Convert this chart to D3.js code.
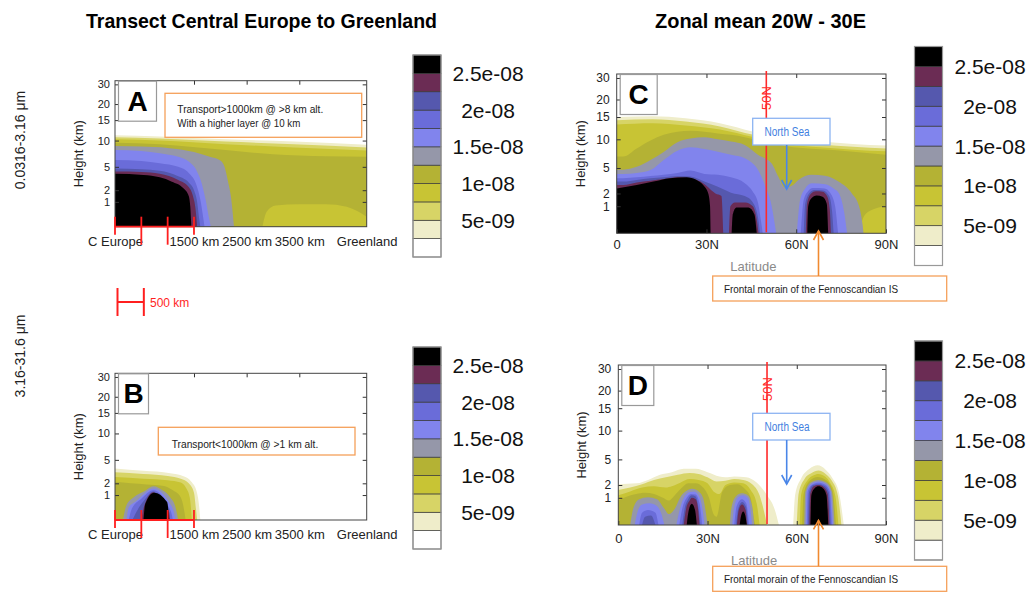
<!DOCTYPE html>
<html>
<head>
<meta charset="utf-8">
<script src="https://cdn.jsdelivr.net/npm/d3@7"></script>
<style>
body { margin: 0; background: #fff; }
svg text { font-family: 'Liberation Sans', Arial, sans-serif; }
</style>
</head>
<body>
<div id="chart"></div>
<script>
// concentration classes, units of 1e-9
const classBreaks = [2.5, 5, 7.5, 10, 12.5, 15, 17.5, 20, 22.5, 25]
const classColors = ['#ffffff', '#efedca', '#d7d466', '#c8c434', '#b4b234', '#9597a9', '#8184ed', '#6a6cd9', '#5558ae', '#6b2c54', '#000000']
const legendTicks = [5, 10, 15, 20, 25]

const heightTicks = [1, 2, 5, 10, 15, 20, 30]
const transectTicks = [0, 1500, 2500, 3500, 4780]
const transectLabels = ['C Europe', '1500 km', '2500 km', '3500 km', 'Greenland']
const rulerKm = [0, 500, 1000, 1500]
const latTicks = [0, 30, 60, 90]
const latLabels = ['0', '30N', '60N', '90N']

// each entry: [class index, top boundary [distance km | latitude, height km]]
const panelA = [
  [1, [[0, 11.3], [850, 11.0], [2100, 10.3], [3400, 9.8], [4780, 9.2]]],
  [2, [[0, 10.8], [850, 10.5], [2100, 9.8], [3400, 9.3], [4780, 8.7]]],
  [3, [[0, 10.3], [850, 10.0], [2100, 9.3], [3400, 8.7], [4780, 8.1]]],
  [4, [[0, 9.6], [850, 9.3], [2100, 8.2], [3000, 7.4], [4000, 7.0], [4780, 6.9]]],
  [3, [[2800, 0], [2880, 0.6], [3050, 0.85], [3500, 0.9], [4000, 0.9], [4400, 0.8], [4780, 0.4]]],
  [5, [[0, 8.95], [500, 8.85], [1000, 8.6], [1500, 7.8], [1800, 6.9], [2000, 6.2], [2080, 5.0], [2150, 3.0], [2200, 1.5], [2260, 0]]],
  [6, [[0, 8.2], [500, 8.0], [850, 7.6], [1200, 6.9], [1400, 6.0], [1550, 4.5], [1650, 2.8], [1720, 1.2], [1780, 0.4], [1820, 0]]],
  [7, [[0, 6.3], [500, 6.1], [850, 5.7], [1200, 5.0], [1400, 4.2], [1550, 2.6], [1620, 1.2], [1680, 0.3], [1700, 0]]],
  [8, [[0, 4.8], [500, 4.7], [850, 4.5], [1200, 3.8], [1400, 3.0], [1500, 2.0], [1560, 1.0], [1600, 0.3], [1620, 0]]],
  [9, [[0, 4.4], [500, 4.35], [850, 4.1], [1200, 3.3], [1400, 2.4], [1480, 1.5], [1530, 0.7], [1560, 0]]],
  [10, [[0, 4.1], [540, 3.95], [850, 3.65], [1080, 3.1], [1300, 2.25], [1400, 1.5], [1430, 0.8], [1450, 0]]]
]

const panelB = [
  [1, [[0, 3.9], [540, 3.6], [1050, 3.3], [1300, 2.9], [1450, 2.2], [1550, 1.3], [1600, 0.5], [1620, 0]]],
  [2, [[0, 3.4], [540, 3.2], [1000, 2.95], [1250, 2.6], [1400, 2.0], [1500, 1.2], [1540, 0.4], [1560, 0]]],
  [3, [[0, 2.8], [540, 2.6], [1000, 2.4], [1250, 2.1], [1350, 1.6], [1420, 0.9], [1460, 0]]],
  [4, [[0, 2.2], [300, 2.0], [600, 1.9], [900, 1.8], [1100, 1.4], [1250, 0.9], [1320, 0.3], [1340, 0]]],
  [5, [[150, 0], [220, 0.6], [350, 0.9], [550, 1.3], [730, 1.75], [900, 1.4], [1050, 0.9], [1150, 0.5], [1200, 0]]],
  [6, [[220, 0], [260, 0.5], [400, 0.75], [550, 1.1], [730, 1.55], [900, 1.15], [1030, 0.7], [1120, 0.3], [1150, 0]]],
  [7, [[260, 0], [320, 0.45], [500, 0.85], [730, 1.4], [880, 1.0], [1000, 0.6], [1080, 0.2], [1100, 0]]],
  [8, [[330, 0], [400, 0.3], [560, 0.8], [730, 1.3], [870, 0.9], [990, 0.5], [1050, 0]]],
  [9, [[500, 0], [560, 0.6], [730, 1.25], [860, 0.8], [1030, 0.3], [1040, 0]]],
  [10, [[540, 0], [575, 0.65], [741, 1.2], [990, 0.72], [1030, 0]]]
]

const panelC = [
  [1, [[0, 15.0], [12, 15.2], [23, 14.7], [34.5, 13.6], [45.7, 11.7], [56.8, 10.2], [68, 9.6], [79, 9.2], [90, 8.9]]],
  [2, [[0, 14.3], [12, 14.5], [23, 14.0], [34.5, 12.9], [45.7, 11.0], [56.8, 9.7], [68, 9.1], [79, 8.7], [90, 8.4]]],
  [3, [[0, 13.3], [12, 13.6], [23, 13.1], [34.5, 12.2], [45.7, 10.5], [56.8, 9.2], [68, 8.6], [79, 8.2], [90, 7.9]]],
  [4, [[0, 7.0], [2.2, 7.0], [6.7, 8.4], [11.3, 9.8], [15.7, 11.0], [20.3, 11.7], [24.7, 11.9], [29.3, 11.7], [33.8, 11.3], [38.2, 11.0], [42.8, 10.45], [47.2, 9.8], [51.8, 9.3], [56.2, 8.85], [62, 8.5], [68, 8.25], [79, 7.85], [90, 7.3]]],
  [3, [[81, 0], [82.5, 0.6], [85, 0.85], [90, 1.0]]],
  [5, [[0, 4.8], [2.2, 4.8], [6.7, 5.2], [11.3, 6.4], [15.7, 7.8], [20.3, 9.5], [24.7, 10.2], [29.3, 10.45], [33.8, 10.0], [38.2, 9.6], [42.8, 9.0], [47.2, 7.3], [51.8, 5.8], [54, 4.0], [56.2, 2.7], [58.5, 2.9], [60.7, 3.6], [65.2, 4.2], [69.6, 4.1], [74.1, 3.4], [78.6, 2.0], [81, 1.0], [82.2, 0.3], [82.5, 0]]],
  [6, [[0, 4.3], [2.2, 4.3], [6.7, 4.4], [11.3, 4.75], [15.7, 6.4], [20.3, 8.0], [24.7, 8.6], [29.3, 8.3], [33.8, 7.85], [38.2, 7.3], [42.8, 6.7], [46, 5.5], [47.2, 4.8], [49.5, 3.0], [51.8, 1.0], [53.3, 0]]],
  [6, [[60.2, 0], [61.3, 1.5], [63, 2.6], [65.3, 3.2], [69.7, 3.1], [72.5, 2.6], [74.3, 2.0], [76, 0.8], [77, 0]]],
  [7, [[0, 3.8], [2.2, 3.8], [6.7, 3.9], [11.3, 4.05], [15.7, 4.2], [20.3, 4.4], [24.7, 4.7], [29.3, 4.3], [33.8, 4.2], [38.2, 3.9], [42.8, 3.2], [45.5, 2.2], [47.2, 1.3], [48.3, 0.4], [48.8, 0]]],
  [7, [[61.5, 0], [62.5, 1.5], [64, 2.3], [65.5, 2.65], [69.5, 2.6], [71.5, 2.0], [73, 1.0], [74, 0]]],
  [8, [[0, 3.4], [2.2, 3.4], [6.7, 3.6], [11.3, 3.8], [15.7, 3.9], [20.3, 4.05], [24.7, 4.0], [29.3, 3.4], [33.8, 2.8], [38.2, 2.1], [42.8, 1.8], [45.5, 1.3], [47.2, 0.6], [47.9, 0]]],
  [8, [[62.5, 0], [63, 1.2], [64.5, 2.1], [66, 2.4], [69, 2.35], [71, 1.8], [72, 0.8], [72.5, 0]]],
  [9, [[0, 3.0], [2.2, 3.0], [6.7, 3.3], [11.3, 3.5], [15.7, 3.7], [20.3, 3.9], [24.7, 3.8], [28, 3.4], [30, 2.9], [31.5, 2.4], [33, 2.0], [35, 1.8], [35.6, 0]]],
  [9, [[37.5, 0], [38, 1.0], [39.5, 1.3], [43, 1.3], [45.5, 1.0], [46.8, 0.5], [47.4, 0]]],
  [9, [[63.2, 0], [63.6, 1.2], [65, 2.0], [66.5, 2.25], [68.8, 2.2], [70.3, 1.8], [71.2, 0.9], [71.6, 0]]],
  [10, [[0, 2.6], [6.7, 3.0], [12.3, 3.4], [17.8, 3.8], [23.4, 3.9], [26.7, 3.6], [28.9, 3.0], [30.6, 2.0], [31.2, 1.0], [31.4, 0]]],
  [10, [[38.4, 0], [38.8, 0.7], [40, 0.95], [44, 0.95], [46, 0.7], [46.8, 0]]],
  [10, [[63.7, 0], [64, 1.0], [65, 1.6], [66.8, 1.85], [68.8, 1.75], [70.2, 1.2], [70.7, 0]]]
]

const panelD = [
  [1, [[0, 2.1], [6.2, 2.2], [10, 2.6], [14, 3.2], [18, 3.5], [22, 3.9], [26, 3.9], [30, 3.5], [34, 3.0], [36, 2.9], [39, 3.0], [43, 2.9], [46.5, 2.3], [50, 1.2], [52.5, 0.6], [54, 0]]],
  [1, [[58.8, 0], [59.5, 1.3], [61.5, 2.8], [64.3, 3.9], [67, 4.3], [69.7, 3.8], [72, 2.8], [74.2, 1.4], [75.8, 0]]],
  [2, [[0, 1.6], [4, 1.8], [8, 2.1], [12, 2.6], [16, 2.9], [20, 3.2], [24, 3.4], [27, 3.3], [30, 2.9], [33, 2.4], [36, 2.5], [39, 2.7], [42, 2.6], [45, 2.1], [47.5, 1.2], [49, 0.5], [50, 0]]],
  [2, [[60, 0], [60.6, 1.3], [62.6, 2.7], [65, 3.4], [67.3, 3.7], [69.7, 3.3], [71.8, 2.5], [73.8, 1.2], [75, 0]]],
  [3, [[0, 1.2], [4, 1.5], [8, 1.8], [12, 1.9], [16, 1.8], [18, 1.9], [21, 2.3], [24, 2.7], [27, 2.6], [30, 2.2], [32, 1.5], [34, 1.3], [36, 2.0], [39, 2.3], [42, 2.2], [44.5, 1.6], [46.5, 0.8], [47.5, 0]]],
  [3, [[61, 0], [61.5, 1.3], [63.5, 2.5], [65.5, 3.1], [67.3, 3.3], [69.5, 3.0], [71.3, 2.2], [73, 1.1], [74, 0]]],
  [4, [[0, 0.9], [3, 1.1], [6, 1.3], [9, 1.4], [12, 1.3], [15, 1.0], [17, 0.9], [19, 1.2], [21, 1.7], [23.5, 2.2], [26, 2.2], [28.5, 1.8], [30.5, 1.0], [32, 0.4], [33, 0.3], [35, 1.5], [37.5, 2.0], [40, 2.1], [42.5, 1.7], [44.5, 1.0], [45.5, 0.3], [46, 0]]],
  [4, [[61.8, 0], [62.3, 1.3], [64.3, 2.5], [67, 2.95], [69.8, 2.6], [72, 1.6], [73.2, 0]]],
  [5, [[4, 0], [5, 0.6], [7, 0.95], [10, 1.05], [13, 0.95], [15.5, 0.6], [17, 0.4], [19, 0.6], [21, 1.1], [23, 1.55], [25, 1.7], [27, 1.5], [28.5, 1.0], [29.5, 0.4], [30, 0]]],
  [5, [[37.5, 0], [38, 0.6], [39.5, 1.1], [41.5, 1.35], [43.5, 1.2], [45, 0.7], [45.7, 0]]],
  [5, [[62.5, 0], [62.9, 1.5], [64.7, 2.3], [67.3, 2.6], [69.9, 2.3], [71.8, 1.5], [72.7, 0]]],
  [6, [[5.5, 0], [6.5, 0.5], [8, 0.75], [10.5, 0.8], [13, 0.7], [14.5, 0.4], [15.5, 0]]],
  [6, [[19.5, 0], [20.5, 0.5], [22, 1.0], [24, 1.45], [25.5, 1.5], [27, 1.2], [28.3, 0.6], [29, 0]]],
  [6, [[38.3, 0], [39, 0.7], [40.5, 1.1], [42, 1.2], [43.5, 1.0], [44.5, 0.5], [45, 0]]],
  [6, [[63, 0], [63.3, 1.5], [65, 2.15], [67.3, 2.4], [69.6, 2.15], [71.4, 1.5], [72.2, 0]]],
  [7, [[7, 0], [8, 0.45], [10, 0.55], [12.5, 0.45], [13.5, 0]]],
  [7, [[20.5, 0], [21.5, 0.6], [23, 1.0], [24.5, 1.3], [26, 1.25], [27.3, 0.8], [28.2, 0]]],
  [7, [[39, 0], [39.8, 0.7], [41.5, 0.95], [43, 0.8], [44, 0]]],
  [7, [[63.4, 0], [63.7, 1.5], [65.3, 2.05], [67.3, 2.25], [69.4, 2.05], [71.1, 1.5], [71.8, 0]]],
  [8, [[8, 0], [9, 0.3], [11, 0.35], [12.5, 0]]],
  [8, [[21.5, 0], [22.3, 0.6], [23.5, 0.95], [24.7, 1.2], [26, 1.1], [27, 0.6], [27.6, 0]]],
  [8, [[39.6, 0], [40.3, 0.6], [41.6, 0.85], [43, 0.65], [43.6, 0]]],
  [8, [[63.8, 0], [64.1, 1.4], [65.5, 2.0], [67.3, 2.1], [69.2, 1.95], [70.8, 1.4], [71.4, 0]]],
  [9, [[22, 0], [22.8, 0.6], [24, 0.9], [24.7, 1.0], [26, 0.95], [26.8, 0.6], [27.3, 0]]],
  [9, [[39.9, 0], [40.5, 0.55], [41.6, 0.75], [42.8, 0.55], [43.3, 0]]],
  [9, [[64.2, 0], [64.5, 1.3], [65.7, 1.9], [67.3, 2.0], [69, 1.85], [70.4, 1.3], [71, 0]]],
  [10, [[23, 0], [23.6, 0.5], [24.7, 0.78], [25.8, 0.55], [26.4, 0]]],
  [10, [[40.8, 0], [41.3, 0.35], [42, 0.5], [42.7, 0.35], [43.2, 0]]],
  [10, [[64.6, 0], [64.9, 1.2], [66, 1.75], [67.3, 1.9], [68.8, 1.75], [70, 1.2], [70.6, 0]]]
]

const W = 1034, H = 596
// height axis is not linear; these are the fractions of the frame height for each tick
const heightDomain = [0, 1, 2, 5, 10, 15, 20, 30, 31.8]
const heightFrac = [0, 0.17, 0.25, 0.41, 0.59, 0.73, 0.84, 0.975, 1]

const svg = d3.select('#chart').append('svg')
  .attr('width', W)
  .attr('height', H)

function drawPanel(p, i) {
  const x = d3.scaleLinear().domain(p.xDomain).range([p.l, p.r])
  const y = d3.scaleLinear().domain(heightDomain).range(heightFrac.map(f => p.b - f * (p.b - p.t)))
  const g = svg.append('g')

  g.append('clipPath').attr('id', 'clip' + i)
    .append('rect')
    .attr('x', p.l).attr('y', p.t)
    .attr('width', p.r - p.l).attr('height', p.b - p.t)

  const area = d3.area()
    .x(d => x(d[0]))
    .y0(y(0))
    .y1(d => y(d[1]))
    .curve(d3.curveMonotoneX)

  g.append('g')
    .attr('clip-path', `url(#clip${i})`)
    .selectAll('path')
    .data(p.layers)
    .join('path')
    .attr('d', d => area(d[1]))
    .attr('fill', d => classColors[d[0]])

  // inner ticks on all four sides
  const tickStyle = sel => {
    sel.select('.domain').remove()
    sel.selectAll('.tick line').attr('stroke', '#333')
    sel.selectAll('.tick text').attr('fill', '#222').style('font-size', p.tickFont + 'px')
  }
  g.append('g').attr('transform', `translate(${p.l},0)`)
    .call(d3.axisLeft(y).tickValues(heightTicks).tickSizeInner(-4).tickSizeOuter(0).tickPadding(p.yPad))
    .call(tickStyle)
  g.append('g').attr('transform', `translate(${p.r},0)`)
    .call(d3.axisRight(y).tickValues(heightTicks).tickSizeInner(-4).tickSizeOuter(0).tickFormat(''))
    .call(tickStyle)
  g.append('g').attr('transform', `translate(0,${p.t})`)
    .call(d3.axisTop(x).tickValues(p.xTicks.slice(1, -1)).tickSizeInner(-4).tickSizeOuter(0).tickFormat(''))
    .call(tickStyle)
  g.append('g').attr('transform', `translate(0,${p.b})`)
    .call(d3.axisBottom(x).tickValues(p.xTicks).tickSizeInner(p.red ? 0 : -4).tickSizeOuter(0).tickPadding(p.xPad)
      .tickFormat((d, k) => p.xLabels[k]))
    .call(tickStyle)
    .call(sel => sel.selectAll('.tick text').style('font-size', '13px'))

  g.append('rect')
    .attr('x', p.l).attr('y', p.t)
    .attr('width', p.r - p.l).attr('height', p.b - p.t)
    .attr('fill', 'none').attr('stroke', '#444').attr('stroke-width', 1)

  g.append('text')
    .attr('transform', `translate(${p.l - p.yTitle},${(p.t + p.b) / 2}) rotate(-90)`)
    .attr('text-anchor', 'middle')
    .attr('dominant-baseline', 'central')
    .style('font-size', '13px')
    .attr('fill', '#222')
    .text('Height (km)')

  // panel letter
  g.append('rect')
    .attr('x', p.l + 3.5).attr('y', p.t + 0.5)
    .attr('width', p.letterW).attr('height', 40)
    .attr('fill', '#fff').attr('stroke', '#999').attr('stroke-width', 1.2)
  g.append('text')
    .attr('x', p.l + 3.5 + p.letterW / 2).attr('y', p.t + 30)
    .attr('text-anchor', 'middle')
    .style('font-size', '28px').style('font-weight', 'bold')
    .text(p.letter)

  if (p.red) {
    const r = g.append('g').attr('stroke', '#ff1f1f').attr('stroke-width', 1.8)
    r.append('line')
      .attr('x1', x(rulerKm[0])).attr('x2', x(rulerKm[rulerKm.length - 1]))
      .attr('y1', p.b).attr('y2', p.b)
    r.selectAll('line.tk').data(rulerKm).join('line')
      .attr('class', 'tk')
      .attr('x1', d => x(d)).attr('x2', d => x(d))
      .attr('y1', p.b - 10)
      .attr('y2', (d, k) => k === 0 || k === rulerKm.length - 1 ? p.b + 8 : p.b + 18)
  } else {
    g.append('text')
      .attr('x', (p.l + p.r) / 2 + 2).attr('y', p.b + p.latY)
      .attr('text-anchor', 'middle')
      .attr('dominant-baseline', 'central')
      .style('font-size', '13px').attr('fill', '#8a8a8a')
      .text('Latitude')
    // 50N reference line
    g.append('line')
      .attr('x1', x(50)).attr('x2', x(50))
      .attr('y1', p.t - 3).attr('y2', p.b - 1)
      .attr('stroke', '#ff2a2a').attr('stroke-width', 1.6)
    g.append('text')
      .attr('transform', `translate(${x(50)},${p.t + 24}) rotate(-90)`)
      .attr('text-anchor', 'middle')
      .attr('dominant-baseline', 'central')
      .style('font-size', '13px').attr('fill', '#ff2a2a')
      .text('50N')
  }
  return x
}

const panels = [
  { letter: 'A', letterW: 38, layers: panelA, l: 115, r: 366.7, t: 80.7, b: 226.7, xDomain: [0, 4780], xTicks: transectTicks, xLabels: transectLabels, red: true, yPad: 5, xPad: 10, yTitle: 37, tickFont: 11 },
  { letter: 'B', letterW: 30, layers: panelB, l: 115, r: 366.7, t: 373.3, b: 520, xDomain: [0, 4780], xTicks: transectTicks, xLabels: transectLabels, red: true, yPad: 5, xPad: 10, yTitle: 37, tickFont: 11 },
  { letter: 'C', letterW: 37, layers: panelC, l: 616.7, r: 886, t: 74, b: 233.3, xDomain: [0, 90], xTicks: latTicks, xLabels: latLabels, red: false, yPad: 7, xPad: 6, yTitle: 36, latY: 33.4, tickFont: 12 },
  { letter: 'D', letterW: 32, layers: panelD, l: 618.3, r: 886, t: 365, b: 525, xDomain: [0, 90], xTicks: latTicks, xLabels: latLabels, red: false, yPad: 7, xPad: 9, yTitle: 37, latY: 35, tickFont: 12 }
]
const xs = panels.map(drawPanel)

// colour bars
function drawLegend(lx, top, bottom, textX) {
  const s = d3.scaleLinear().domain([0, 27.5]).range([bottom, top])
  const edges = [0, ...classBreaks, 27.5]
  const g = svg.append('g')
  g.selectAll('rect')
    .data(classColors)
    .join('rect')
    .attr('x', lx).attr('width', 28)
    .attr('y', (c, k) => s(edges[k + 1]))
    .attr('height', (c, k) => s(edges[k]) - s(edges[k + 1]))
    .attr('fill', c => c)
    .attr('stroke', '#3a3a3a').attr('stroke-width', 0.7)
  g.append('rect')
    .attr('x', lx).attr('y', top).attr('width', 28).attr('height', bottom - top)
    .attr('fill', 'none').attr('stroke', '#999').attr('stroke-width', 1.2)
  g.selectAll('text')
    .data(legendTicks)
    .join('text')
    .attr('x', textX).attr('y', v => s(v))
    .attr('text-anchor', 'middle')
    .attr('dominant-baseline', 'central')
    .style('font-size', '21px').attr('fill', '#111')
    .text(v => v < 10 ? v + 'e-09' : v / 10 + 'e-08')
}
drawLegend(413, 55, 257, 488)
drawLegend(413, 347, 549, 488)
drawLegend(914.5, 46.5, 265.5, 990)
drawLegend(914.5, 341, 560, 990)

// titles and row labels
svg.append('text')
  .attr('x', 86).attr('y', 28)
  .attr('textLength', 351).attr('lengthAdjust', 'spacingAndGlyphs')
  .style('font-size', '21px').style('font-weight', 'bold')
  .text('Transect Central Europe to Greenland')
svg.append('text')
  .attr('x', 655).attr('y', 28)
  .attr('textLength', 211).attr('lengthAdjust', 'spacingAndGlyphs')
  .style('font-size', '21px').style('font-weight', 'bold')
  .text('Zonal mean 20W - 30E')

const rowLabels = [['0.0316-3.16 μm', 140], ['3.16-31.6 μm', 356]]
rowLabels.forEach(([t, cy]) => {
  svg.append('text')
    .attr('transform', `translate(20,${cy}) rotate(-90)`)
    .attr('text-anchor', 'middle')
    .attr('dominant-baseline', 'central')
    .style('font-size', '14px').attr('fill', '#222')
    .text(t)
})

// 500 km scale bar
const xA = xs[0]
const bar = svg.append('g').attr('stroke', '#ff1f1f').attr('stroke-width', 2)
const barW = xA(500) - xA(0)
bar.append('line').attr('x1', 117.5).attr('x2', 117.5).attr('y1', 288).attr('y2', 316)
bar.append('line').attr('x1', 117.5 + barW).attr('x2', 117.5 + barW).attr('y1', 288).attr('y2', 316)
bar.append('line').attr('x1', 117.5).attr('x2', 117.5 + barW).attr('y1', 302).attr('y2', 302)
svg.append('text')
  .attr('x', 150).attr('y', 306.5)
  .style('font-size', '12px').attr('fill', '#ff1f1f')
  .text('500 km')

// annotation boxes
function noteBox(x, y, w, h, stroke, lines, color, size) {
  svg.append('rect')
    .attr('x', x).attr('y', y).attr('width', w).attr('height', h)
    .attr('fill', '#fff').attr('stroke', stroke).attr('stroke-width', 1.3)
  lines.forEach(l => {
    const t = svg.append('text')
      .attr('x', l.x).attr('y', l.y)
      .style('font-size', size + 'px').attr('fill', color)
      .text(l.text)
    if (l.w) t.attr('textLength', l.w).attr('lengthAdjust', 'spacingAndGlyphs')
    if (l.anchor) t.attr('text-anchor', l.anchor)
  })
}
noteBox(165, 93.3, 196.7, 44, '#f5a05a', [
  { x: 177.3, y: 113, text: 'Transport>1000km @ >8 km alt.', w: 146 },
  { x: 177.3, y: 127, text: 'With a higher layer @ 10 km', w: 123 }
], '#222', 11)
noteBox(158.3, 427.3, 196.7, 27.7, '#f5a05a', [
  { x: 171.7, y: 448, text: 'Transport<1000km @ >1 km alt.', w: 146.6 }
], '#222', 11)

function arrow(x, y1, y2, color) {
  const dir = y2 > y1 ? 1 : -1
  const g = svg.append('g').attr('stroke', color).attr('stroke-width', 1.6).attr('fill', 'none')
  g.append('line').attr('x1', x).attr('x2', x).attr('y1', y1).attr('y2', y2)
  g.append('path').attr('d', `M${x - 5},${y2 - dir * 9}L${x},${y2}L${x + 5},${y2 - dir * 9}`)
}

// North Sea and moraine notes for panels C and D
const notes = [[0, 0], [295, 290.3]]
notes.forEach(([dy, dy2]) => {
  noteBox(752.7, 118.3 + dy, 77.3, 26.7, '#8db4f2', [
    { x: 787, y: 136 + dy, text: 'North Sea', w: 45, anchor: 'middle' }
  ], '#3f7fe0', 12)
  arrow(786.7, 145 + dy, 189 + dy, '#4a86e8')
  noteBox(712.7, 276 + dy2, 234, 25, '#f5a05a', [
    { x: 724, y: 293 + dy2, text: 'Frontal morain of the Fennoscandian IS', w: 174 }
  ], '#222', 11)
  arrow(818.5, 276 + dy2, 231 + dy2 - (dy ? 1 : 0), '#f08a30')
})
</script>
</body>
</html>
